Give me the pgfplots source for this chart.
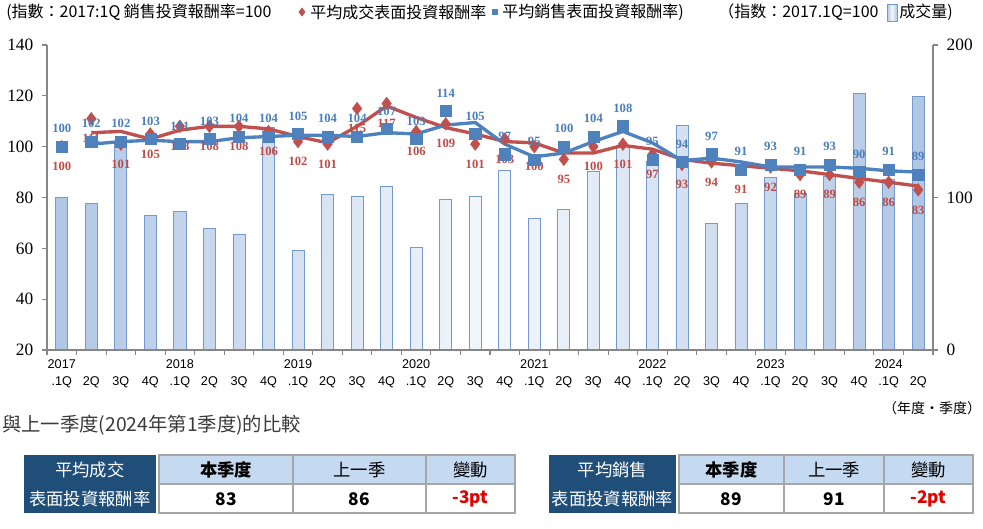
\documentclass[border=0pt]{standalone}
\usepackage{pgfplots}
\pgfplotsset{compat=1.18}
\usepackage{fontspec}
\setmainfont{Liberation Serif}
\newfontfamily\arial{Liberation Sans}
\newfontfamily\cjk{Noto Sans CJK TC}

\definecolor{serred}{HTML}{C0504D}
\definecolor{serblue}{HTML}{4F81BD}
\definecolor{lblred}{HTML}{BE4B48}
\definecolor{lblblue}{HTML}{4A7EBB}
\definecolor{baredge}{HTML}{7399CD}
\definecolor{barside}{HTML}{AFC6E5}
\definecolor{barmid}{HTML}{F3F7FC}
\definecolor{axgray}{HTML}{868686}
\definecolor{navy}{HTML}{1F4E79}
\definecolor{hdr}{HTML}{C5D9F1}
\definecolor{tblline}{HTML}{A6A6A6}
\definecolor{titlegray}{HTML}{3B3B3B}
\definecolor{chg}{HTML}{E00000}

\newcommand{\q}[1]{\phantom{0}\\#1}

\begin{document}
\begin{tikzpicture}
\useasboundingbox (0,0) rectangle (737.25pt,-396.75pt);

% volume bars (right axis)
\begin{axis}[
  at={(35.25pt,-262.5pt)}, anchor=south west,
  scale only axis, width=664.5pt, height=228.75pt,
  xmin=-0.5, xmax=29.5, ymin=0, ymax=200,
  axis x line=none, axis y line*=right,
  axis line style={axgray, line width=0.8pt},
  ytick={0,100,200},
  tick align=outside, major tick length=3.75pt,
  tick style={axgray, line width=0.8pt},
  yticklabel style={font=\fontsize{13}{15}\selectfont, xshift=3pt},
  /pgf/number format/assume math mode=true,
]
\addplot[ybar, bar width=0.41, draw=baredge, line width=0.6pt,
  left color=barside, right color=barside, middle color=barmid] coordinates {
  (0,100) (1,96) (2,137) (3,88) (4,91) (5,80) (6,76) (7,146)
  (8,65) (9,102) (10,101) (11,107) (12,67) (13,99) (14,101) (15,118)
  (16,86) (17,92) (18,117) (19,134) (20,124) (21,147) (22,83) (23,96)
  (24,113) (25,103) (26,114) (27,168) (28,112) (29,166)
};
\end{axis}

% yields (left axis)
\begin{axis}[
  at={(35.25pt,-262.5pt)}, anchor=south west,
  scale only axis, width=664.5pt, height=228.75pt,
  xmin=-0.5, xmax=29.5, ymin=20, ymax=140,
  axis x line*=bottom, axis y line*=left,
  axis line style={axgray, line width=0.8pt},
  ytick={20,40,...,140},
  xtick={0,...,29},
  xticklabels={{2017\\.1Q},{\q{2Q}},{\q{3Q}},{\q{4Q}},
    {2018\\.1Q},{\q{2Q}},{\q{3Q}},{\q{4Q}},
    {2019\\.1Q},{\q{2Q}},{\q{3Q}},{\q{4Q}},
    {2020\\.1Q},{\q{2Q}},{\q{3Q}},{\q{4Q}},
    {2021\\.1Q},{\q{2Q}},{\q{3Q}},{\q{4Q}},
    {2022\\.1Q},{\q{2Q}},{\q{3Q}},{\q{4Q}},
    {2023\\.1Q},{\q{2Q}},{\q{3Q}},{\q{4Q}},
    {2024\\.1Q},{\q{2Q}}},
  minor xtick={-0.5,0.5,...,29.5},
  tick align=outside, major tick length=3.75pt, minor tick length=3.75pt,
  major x tick style={draw=none},
  minor x tick style={axgray, line width=0.8pt},
  ytick style={axgray, line width=0.8pt},
  xticklabel style={font=\arial\fontsize{9.5}{12.75}\selectfont, align=center, anchor=north},
  yticklabel style={font=\fontsize{13}{15}\selectfont, xshift=-3pt},
  /pgf/number format/assume math mode=true,
  clip=false,
]
% 2-quarter moving averages
\addplot[serred, line width=2.5pt] coordinates {
  (1,105.5) (2,106) (3,103) (4,106.5) (5,108) (6,108) (7,107) (8,104)
  (9,101.5) (10,108) (11,116) (12,111.5) (13,107.5) (14,105) (15,102)
  (16,101.5) (17,97.5) (18,97.5) (19,100.5) (20,99) (21,95) (22,93.5)
  (23,92.5) (24,91.5) (25,90.5) (26,89) (27,87.5) (28,86) (29,84.5)
};
\addplot[serblue, line width=2.5pt] coordinates {
  (1,101) (2,102) (3,102.5) (4,102) (5,102) (6,103.5) (7,104) (8,104.5)
  (9,104.5) (10,104) (11,105.5) (12,105) (13,108.5) (14,109.5) (15,101)
  (16,96) (17,97.5) (18,102) (19,106) (20,101.5) (21,94.5) (22,95.5)
  (23,94) (24,92) (25,92) (26,92) (27,91.5) (28,90.5) (29,90)
};
% transaction yield
\addplot[only marks, mark=diamond*, mark size=4.7pt, color=serred,
  nodes near coords,
  every node near coord/.append style={font=\bfseries\fontsize{9.5}{11}\selectfont,
    text=lblred, anchor=center, yshift=-15pt}] coordinates {
  (0,100) (1,111) (2,101) (3,105) (4,108) (5,108) (6,108) (7,106)
  (8,102) (9,101) (10,115) (11,117) (12,106) (13,109) (14,101) (15,103)
  (16,100) (17,95) (18,100) (19,101) (20,97) (21,93) (22,94) (23,91)
  (24,92) (25,89) (26,89) (27,86) (28,86) (29,83)
};
% sales yield
\addplot[only marks, mark=square*, mark size=4.2pt, color=serblue,
  nodes near coords,
  every node near coord/.append style={font=\bfseries\fontsize{9.5}{11}\selectfont,
    text=lblblue, anchor=center, yshift=13.5pt}] coordinates {
  (0,100) (1,102) (2,102) (3,103) (4,101) (5,103) (6,104) (7,104)
  (8,105) (9,104) (10,104) (11,107) (12,103) (13,114) (14,105) (15,97)
  (16,95) (17,100) (18,104) (19,108) (20,95) (21,94) (22,97) (23,91)
  (24,93) (25,91) (26,93) (27,90) (28,91) (29,89)
};
\end{axis}

\begin{scope}[x=0.75pt, y=-0.75pt]
% legend line
\tikzset{lg/.style={anchor=west, inner sep=0pt, font=\cjk\fontsize{12}{14}\selectfont}}
\node[lg] at (6,12) {(指數：2017:1Q 銷售投資報酬率=100};
\fill[serred] (302,7.5) -- (305.5,12) -- (302,16.5) -- (298.5,12) -- cycle;
\node[lg] at (310,12) {平均成交表面投資報酬率};
\fill[serblue] (492,9) rectangle (498,15);
\node[lg] at (502,12) {平均銷售表面投資報酬率)};
\node[lg] at (718,12) {（指数：2017.1Q=100};
\draw[baredge, left color=barside, right color=barside, middle color=barmid] (887,4) rectangle (897,21);
\node[lg] at (899,12) {成交量)};

\node[inner sep=0pt, font=\cjk\fontsize{10.5}{12}\selectfont] at (932,408) {（年度·季度）};
\node[anchor=west, inner sep=0pt, text=titlegray, font=\cjk\fontsize{14.5}{17}\selectfont] at (2,425) {與上一季度(2024年第1季度)的比較};

\tikzset{tx/.style={inner sep=0pt, font=\cjk\fontsize{13}{15}\selectfont}}
% table 1
\fill[navy] (24,455) rectangle (156,513);
\fill[hdr] (159,455) rectangle (515,484);
\draw[tblline, line width=0.8pt] (159,455) rectangle (515,513)
  (159,484) -- (515,484) (293,455) -- (293,513) (426,455) -- (426,513);
\node[tx, text=white] at (90,470) {平均成交};
\node[tx, text=white] at (90,499) {表面投資報酬率};
\node[tx, font=\cjk\bfseries\fontsize{13}{15}\selectfont] at (226,470) {本季度};
\node[tx] at (359.5,470) {上一季};
\node[tx] at (470.5,470) {變動};
\node[tx, font=\cjk\bfseries\fontsize{13}{15}\selectfont] at (226,499) {83};
\node[tx, font=\cjk\bfseries\fontsize{13}{15}\selectfont] at (359.5,499) {86};
\node[tx, text=chg, font=\cjk\bfseries\fontsize{13}{15}\selectfont] at (470.5,499) {-3pt};
% table 2
\fill[navy] (549,455) rectangle (676,513);
\fill[hdr] (679,455) rectangle (973,484);
\draw[tblline, line width=0.8pt] (679,455) rectangle (973,513)
  (679,484) -- (973,484) (784,455) -- (784,513) (884,455) -- (884,513);
\node[tx, text=white] at (612.5,470) {平均銷售};
\node[tx, text=white] at (612.5,499) {表面投資報酬率};
\node[tx, font=\cjk\bfseries\fontsize{13}{15}\selectfont] at (731.5,470) {本季度};
\node[tx] at (834,470) {上一季};
\node[tx] at (928.5,470) {變動};
\node[tx, font=\cjk\bfseries\fontsize{13}{15}\selectfont] at (731.5,499) {89};
\node[tx, font=\cjk\bfseries\fontsize{13}{15}\selectfont] at (834,499) {91};
\node[tx, text=chg, font=\cjk\bfseries\fontsize{13}{15}\selectfont] at (928.5,499) {-2pt};
\end{scope}
\end{tikzpicture}
\end{document}
